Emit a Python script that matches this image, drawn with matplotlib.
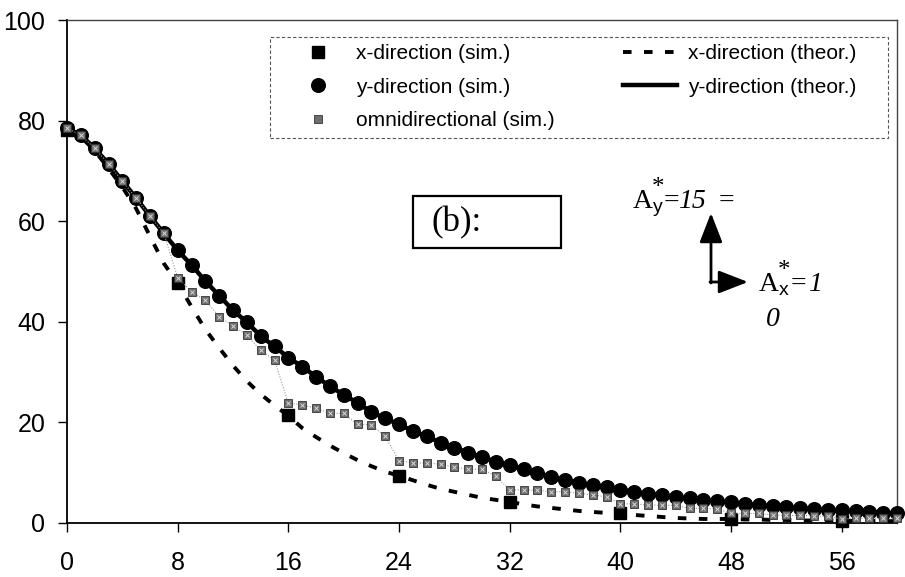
import matplotlib
matplotlib.use("Agg")
import matplotlib.pyplot as plt
from matplotlib.patches import Rectangle

# lag (grid cells) and correlation values
lags = list(range(61))
x_lags_sim = [0, 8, 16, 24, 32, 40, 48, 56]

x_sim = [78.2, 47.7, 21.5, 9.4, 4.2, 1.9, 0.8, 0.4]

y_sim = [78.5, 77.1, 74.5, 71.4, 68.0, 64.6, 61.0, 57.6, 54.2, 51.3,
         48.1, 45.2, 42.3, 39.9, 37.2, 35.1, 32.9, 31.1, 29.1, 27.2,
         25.5, 23.9, 22.1, 20.8, 19.6, 18.3, 17.2, 16.0, 15.0, 14.0,
         13.1, 12.2, 11.5, 10.7, 9.9, 9.2, 8.5, 8.0, 7.5, 7.1,
         6.6, 6.2, 5.8, 5.5, 5.1, 4.9, 4.6, 4.4, 4.1, 3.8,
         3.6, 3.3, 3.2, 3.0, 2.8, 2.6, 2.5, 2.3, 2.2, 2.0, 1.9]

omni_sim = [78.5, 77.1, 74.5, 71.4, 68.0, 64.6, 61.0, 57.6, 48.8, 46.0,
            44.3, 41.0, 39.2, 37.4, 34.3, 32.4, 23.8, 23.5, 22.8, 21.8,
            21.8, 19.6, 19.5, 17.2, 12.4, 12.0, 11.9, 11.7, 11.1, 10.7,
            10.7, 9.3, 6.6, 6.6, 6.5, 6.2, 6.2, 5.9, 5.6, 5.2,
            3.8, 3.8, 3.6, 3.5, 3.5, 2.9, 2.9, 2.8, 1.9, 1.9,
            1.9, 1.6, 1.5, 1.5, 1.4, 1.3, 0.8, 0.9, 1.0, 0.9, 1.0]

x_theor = [78.5, 76.8, 74.0, 70.5, 66.8, 62.5, 57.0, 51.6, 47.7, 43.0,
           38.5, 34.8, 31.3, 28.2, 25.6, 23.4, 21.3, 18.9, 17.1, 15.4,
           13.9, 12.5, 11.3, 10.2, 9.4, 8.5, 7.6, 6.8, 6.2, 5.6,
           5.0, 4.6, 4.2, 3.7, 3.3, 3.0, 2.7, 2.4, 2.2, 2.0,
           1.8, 1.6, 1.4, 1.2, 1.0, 0.9, 0.8, 0.8, 0.8, 0.7,
           0.7, 0.6, 0.6, 0.5, 0.5, 0.5, 0.45, 0.4, 0.4, 0.4, 0.35]

# along y the model runs through the simulated points
y_theor = list(y_sim)

x_ticks = [0, 8, 16, 24, 32, 40, 48, 56]
y_ticks = [0, 20, 40, 60, 80, 100]

W, H = 905, 577
fig = plt.figure(figsize=(W / 100, H / 100), dpi=100)
ax = fig.add_axes([67 / W, 1 - 523 / H, 830 / W, 503 / H])


def fpx(x, y):
    return x / W, 1 - y / H


ax.plot(lags, y_theor, color='black', lw=3.2, zorder=2,
        label='y-direction (theor.)', clip_on=False)
ax.plot(lags, x_theor, color='black', lw=2.8, dashes=(2.2, 3.2),
        dash_capstyle='butt', zorder=2, label='x-direction (theor.)')
ax.plot(lags, y_sim, ls='none', marker='o', ms=9.8, color='black',
        zorder=3, clip_on=False, label='y-direction (sim.)')
ax.plot(x_lags_sim, x_sim, ls='none', marker='s', ms=9, color='black',
        zorder=4, clip_on=False, label='x-direction (sim.)')
ax.plot(lags, omni_sim, color='#9a9a9a', lw=0.8, ls=(0, (1, 1.5)),
        zorder=5, clip_on=False)
ax.plot(lags, omni_sim, ls='none', marker='s', ms=5.8, mfc='#6e6e6e',
        mec='#333333', mew=0.6, zorder=6, clip_on=False,
        label='omnidirectional (sim.)')
ax.plot(lags, omni_sim, ls='none', marker='x', ms=3.4, mec='#d8d8d8',
        mew=0.7, zorder=7, clip_on=False)

ax.set_xlim(0, 60)
ax.set_ylim(0, 100)
ax.set_xticks(x_ticks)
ax.set_yticks(y_ticks)
ax.tick_params(direction='out', length=6.5, width=1, colors='black')
ax.tick_params(axis='x', pad=14)
ax.tick_params(axis='y', pad=9)
for lab in ax.get_xticklabels() + ax.get_yticklabels():
    lab.set_family('Liberation Sans')
    lab.set_fontsize(18)
for side in ['left', 'bottom']:
    ax.spines[side].set_linewidth(1.3)
for side in ['top', 'right']:
    ax.spines[side].set_linewidth(1.0)
    ax.spines[side].set_color('#444444')

handles, labels = ax.get_legend_handles_labels()
order = [labels.index(n) for n in ['x-direction (sim.)', 'y-direction (sim.)',
                                   'omnidirectional (sim.)',
                                   'x-direction (theor.)', 'y-direction (theor.)']]
leg = ax.legend([handles[i] for i in order], [labels[i] for i in order],
                ncol=2, loc='upper left',
                bbox_to_anchor=fpx(291, 44), bbox_transform=fig.transFigure,
                prop={'family': 'Liberation Sans', 'size': 15},
                frameon=False, borderaxespad=0, borderpad=0,
                handlelength=2.6, handletextpad=0.5, labelspacing=0.7,
                columnspacing=3.3)

# dashed legend box
fig.patches.append(Rectangle(fpx(270, 138), 618 / W, 101 / H,
                             transform=fig.transFigure, fill=False,
                             lw=0.8, ec='#555555', ls=(0, (3, 2))))

# panel tag
fig.patches.append(Rectangle(fpx(413, 248), 148 / W, 52 / H,
                             transform=fig.transFigure, fill=False,
                             lw=1.6, ec='black'))
fig.text(*fpx(431, 223), '(b):', family='Liberation Serif', size=25,
         va='center', ha='left')

# anisotropy sketch
serif = 'Liberation Serif'
fig.text(*fpx(633, 208), 'A', family=serif, size=20, va='baseline')
fig.text(*fpx(658, 194), '*', family=serif, size=18, va='baseline',
         ha='center')
fig.text(*fpx(658, 212), 'y', family='Liberation Sans', size=14,
         va='baseline', ha='center')
fig.text(*fpx(664, 208), '=', family=serif, size=20, va='baseline')
fig.text(*fpx(678, 208), '15', family=serif, style='italic', size=20,
         va='baseline')
fig.text(*fpx(719, 208), '=', family=serif, size=20, va='baseline')

fig.text(*fpx(759, 291), 'A', family=serif, size=20, va='baseline')
fig.text(*fpx(784, 277), '*', family=serif, size=18, va='baseline',
         ha='center')
fig.text(*fpx(784, 295), 'x', family='Liberation Sans', size=14,
         va='baseline', ha='center')
fig.text(*fpx(791, 291), '=', family=serif, size=20, va='baseline')
fig.text(*fpx(808, 291), '1', family=serif, style='italic', size=20,
         va='baseline')
fig.text(*fpx(766, 326), '0', family=serif, style='italic', size=20,
         va='baseline')

arrow = dict(arrowstyle='-|>,head_length=0.9,head_width=0.35',
             color='black', lw=2, shrinkA=0, shrinkB=0, mutation_scale=20)
ax.annotate('', xy=fpx(711, 213), xytext=fpx(711, 283),
            xycoords='figure fraction', textcoords='figure fraction',
            arrowprops=arrow)
ax.annotate('', xy=fpx(748, 282), xytext=fpx(710, 282),
            xycoords='figure fraction', textcoords='figure fraction',
            arrowprops=arrow)

fig.savefig('out.png', dpi=100)
